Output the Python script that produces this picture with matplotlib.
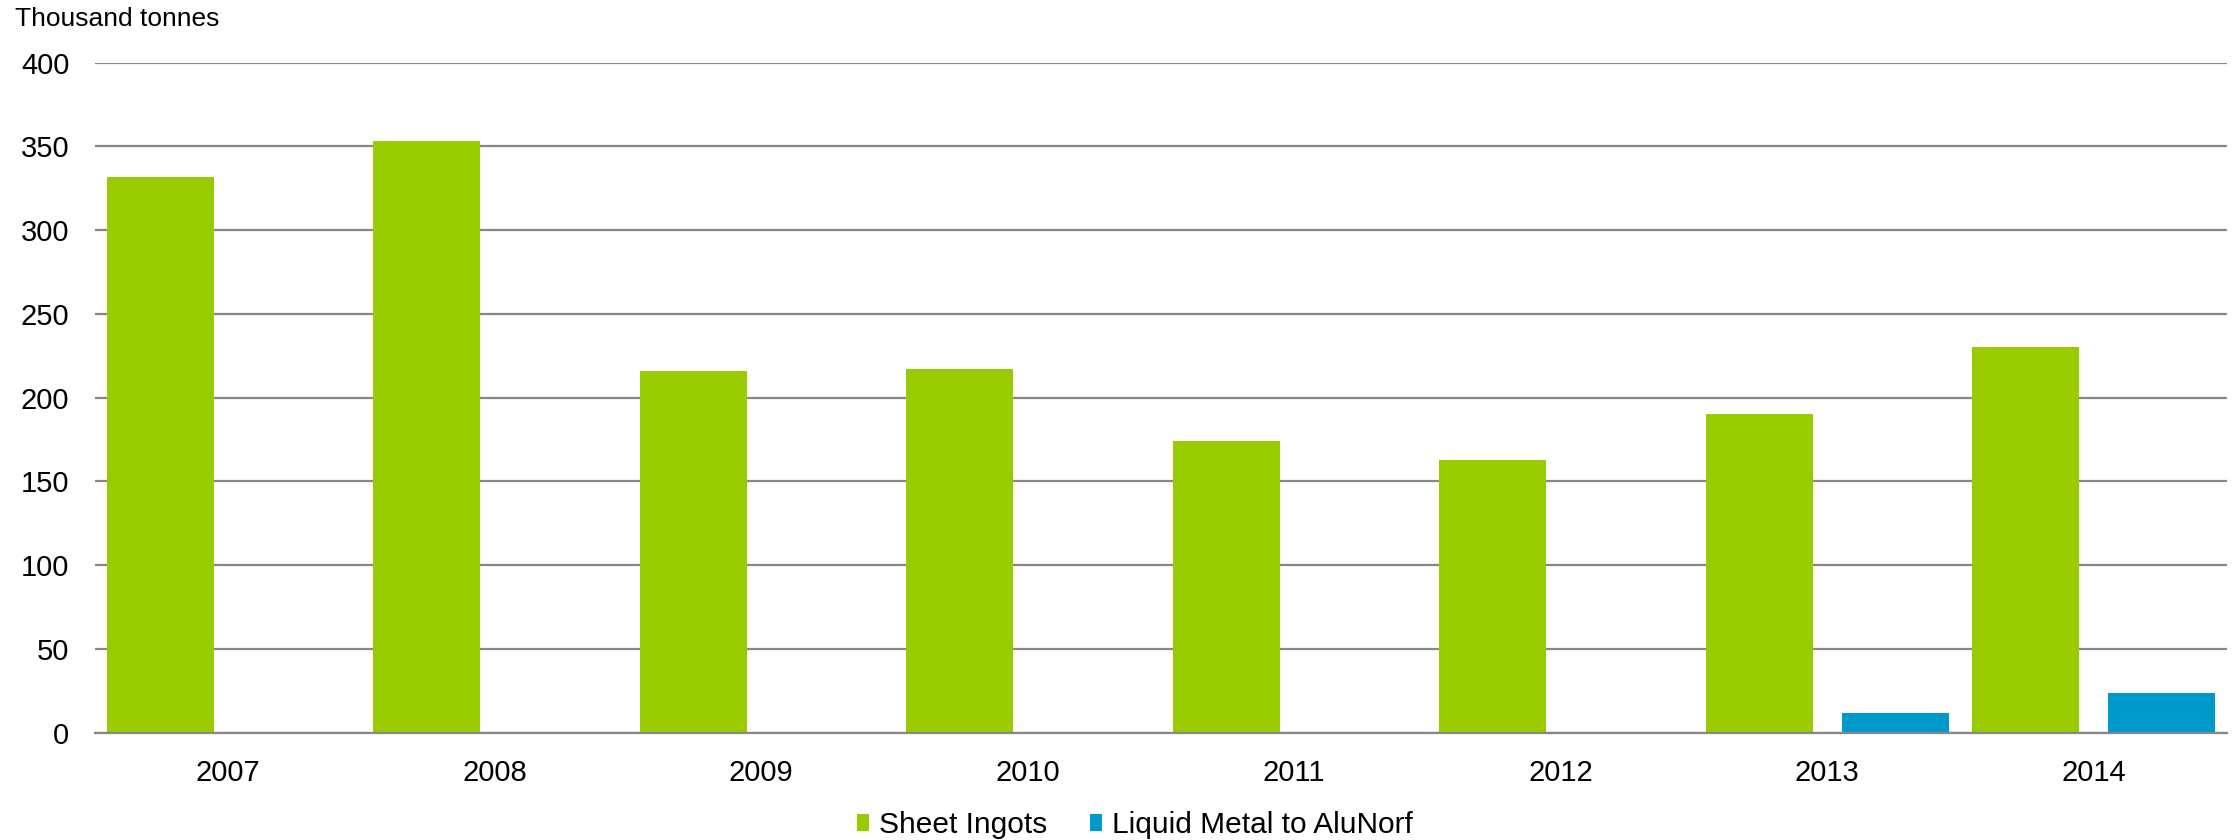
import matplotlib
matplotlib.use("Agg")
import matplotlib.pyplot as plt
import numpy as np

years = ["2007", "2008", "2009", "2010", "2011", "2012", "2013", "2014"]
sheet_ingots = [332, 353, 216, 217, 174, 163, 190, 230]
liquid_metal = [0, 0, 0, 0, 0, 0, 12, 24]
series_names = ["Sheet Ingots", "Liquid Metal to AluNorf"]
yticks = [0, 50, 100, 150, 200, 250, 300, 350, 400]

green = "#99CC00"
blue = "#0099CC"
grid_color = "#878787"

plt.rcParams['font.family'] = ['Liberation Sans', 'DejaVu Sans']

fig = plt.figure(figsize=(22.35, 8.4), dpi=100)
ax = fig.add_axes([95/2235, 1-732.7/840, (2227-95)/2235, (732.7-62.7)/840])

x = np.arange(len(years))
w = 0.40
off = 0.255
ax.bar(x - off, sheet_ingots, width=w, color=green, label=series_names[0], zorder=3)
ax.bar(x + off, liquid_metal, width=w, color=blue, label=series_names[1], zorder=3)

ax.set_xlim(-0.5, len(years) - 0.5)
ax.set_ylim(0, 400)
ax.set_yticks(yticks)
ax.set_yticklabels([str(v) for v in yticks], fontsize=21)
ax.set_xticks(x)
ax.set_xticklabels(years, fontsize=21)
ax.tick_params(axis='both', length=0)
ax.tick_params(axis='y', pad=18.5)
ax.tick_params(axis='x', pad=19)

for s in ['top', 'right', 'left']:
    ax.spines[s].set_visible(False)
ax.spines['bottom'].set_color(grid_color)
ax.spines['bottom'].set_linewidth(1.6)
ax.spines['bottom'].set_zorder(4)

ax.yaxis.grid(True, color=grid_color, linewidth=1.6, zorder=1)
ax.set_axisbelow(True)

fig.text(15/2235, 1-26/840, "Thousand tonnes", fontsize=19, ha='left', va='baseline')

fig.legend(loc='center', bbox_to_anchor=(1135/2235, 1-825/840), ncol=2, frameon=False,
           fontsize=21.5, handlelength=0.4, handleheight=0.5, handletextpad=0.34,
           columnspacing=1.44, borderpad=0)

fig.savefig("out.png", dpi=100)
